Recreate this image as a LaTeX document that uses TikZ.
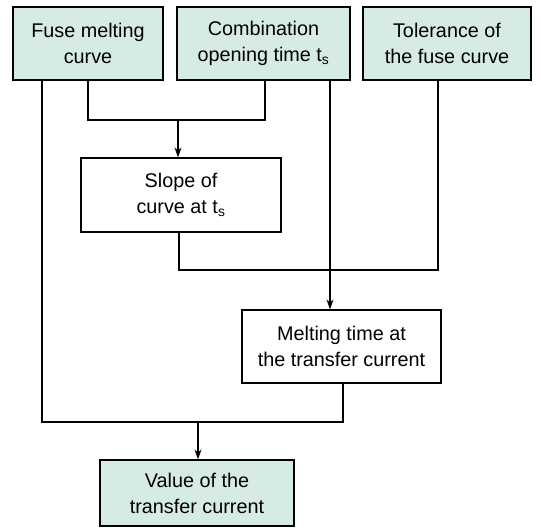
\documentclass[tikz,border=0pt]{standalone}
\usepackage{fontspec}
\setmainfont{Liberation Sans}
\usetikzlibrary{arrows.meta}
\definecolor{boxfill}{HTML}{D6EBE6}
\begin{document}
\begin{tikzpicture}[x=1pt,y=-1pt,
  box/.style={draw=black,line width=1.2pt,minimum width=#1,minimum height=73pt,align=center,inner sep=0pt,font=\fontsize{19.8}{26}\selectfont},
  gbox/.style={box=#1,fill=boxfill},
  wbox/.style={box=#1,fill=white},
  conn/.style={line width=1.2pt},
  arr/.style={conn,-{Stealth[length=10pt,width=7pt]}}]
\useasboundingbox (0,0) rectangle (541,531);
\node[gbox=150pt] (fuse) at (88,43.5) {Fuse melting\\curve};
\node[gbox=173pt] (comb) at (263.5,43.5) {Combination\\opening time t\textsubscript{s}};
\node[gbox=168pt] (tol) at (447,43.5) {Tolerance of\\the fuse curve};
\node[wbox=200pt,minimum height=74pt] (slope) at (181,195) {Slope of\\curve at t\textsubscript{s}};
\node[wbox=199pt] (melt) at (341.5,346.5) {Melting time at\\the transfer current};
\node[gbox=194pt,minimum height=66pt] (val) at (197,493) {Value of the\\transfer current};
\coordinate (j1) at (178,120);
\coordinate (j2) at (198,422);
\draw[conn] (fuse.south -| 88,0) |- (j1) -| (comb.south -| 265,0);
\draw[arr] (j1) -- (slope.north -| j1);
\draw[conn] (slope.south -| 179,0) |- (438,270) -- (tol.south -| 438,0);
\draw[arr] (comb.south -| 330,0) -- (melt.north -| 330,0);
\draw[conn] (fuse.south -| 42,0) |- (j2) -| (melt.south -| 343,0);
\draw[arr] (j2) -- (val.north -| j2);
\end{tikzpicture}
\end{document}
